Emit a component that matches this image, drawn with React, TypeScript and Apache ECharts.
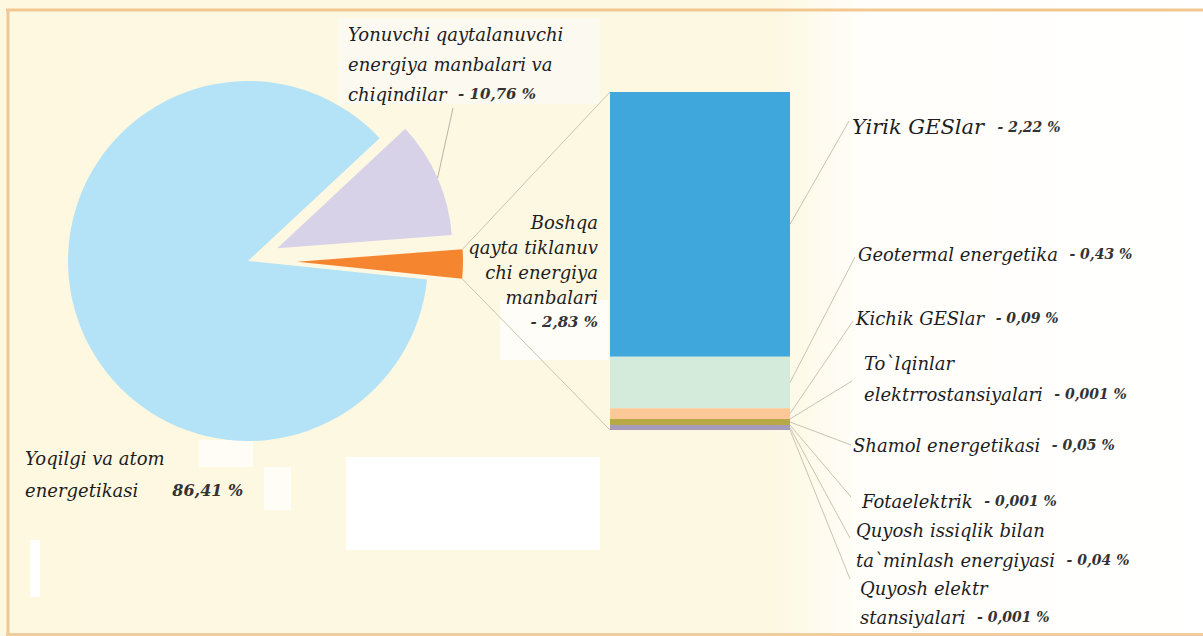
import React, { useEffect, useRef } from "react";
import * as echarts from "echarts";

// ---------- data ----------
const pieNames = [
  "Yoqilgi va atom energetikasi",
  "Yonuvchi qaytalanuvchi energiya manbalari va chiqindilar",
  "Boshqa qayta tiklanuvchi energiya manbalari",
];
const pieValues = [86.41, 10.76, 2.83];
const pieLabelLines = [
  ["Yoqilgi va atom", "energetikasi"],
  ["Yonuvchi qaytalanuvchi", "energiya manbalari va", "chiqindilar"],
  ["Boshqa", "qayta tiklanuv", "chi energiya", "manbalari"],
];

const barNames = [
  "Yirik GESlar",
  "Geotermal energetika",
  "Kichik GESlar",
  "To`lqinlar elektrrostansiyalari",
  "Shamol energetikasi",
  "Fotaelektrik",
  "Quyosh issiqlik bilan ta`minlash energiyasi",
  "Quyosh elektr stansiyalari",
];
const barValues = [2.22, 0.43, 0.09, 0.001, 0.05, 0.001, 0.04, 0.001];
const barLabelLines = [
  ["Yirik GESlar"],
  ["Geotermal energetika"],
  ["Kichik GESlar"],
  ["To`lqinlar", "elektrrostansiyalari"],
  ["Shamol energetikasi"],
  ["Fotaelektrik"],
  ["Quyosh issiqlik bilan", "ta`minlash energiyasi"],
  ["Quyosh elektr", "stansiyalari"],
];

// ---------- layout / style ----------
const W = 1203;
const H = 636;
const PIE_C = [248, 261];
const START = 354.1;
const PIE_R = [180, 175, 166];
const PIE_OFF = [0, 32, 49];
const pieColors = ["#b4e3f7", "#d8d2e9", "#f5852f"];
const barColors = ["#3fa7dc", "#d4eadb", "#fcc898", "#e3b57c", "#b8a947", "#c2b27a", "#a69cba", "#9b95b6"];
const GRID = { left: 610, top: 92, width: 180, height: 338 };
const FONT = "DejaVu Serif";
const LINE_COLOR = "#cbc3ad";

const pieLabelPos = [
  { x: 25, top: 442, lh: 32, align: "left" },
  { x: 348, top: 19, lh: 30, align: "left" },
  { x: 598, top: 209.5, lh: 25, align: "right" },
];
const barLabelPos = [
  { x: 852, top: 112, lh: 30, fs: 21, ax: 849, ay: 121 },
  { x: 858, top: 239, lh: 30, fs: 18, ax: 855, ay: 257 },
  { x: 856, top: 303, lh: 30, fs: 18, ax: 853, ay: 321 },
  { x: 864, top: 347.5, lh: 31, fs: 18, ax: 852, ay: 381 },
  { x: 853, top: 430, lh: 30, fs: 18, ax: 851, ay: 445 },
  { x: 862, top: 486, lh: 30, fs: 18, ax: 851, ay: 497 },
  { x: 856, top: 515, lh: 30, fs: 18, ax: 850, ay: 538 },
  { x: 860, top: 573.5, lh: 29, fs: 18, ax: 850, ay: 579 },
];

const fmt = (v: number) => String(v).replace(".", ",") + " %";

export default function App() {
  const ref = useRef<HTMLDivElement>(null);

  useEffect(() => {
    const chart = echarts.init(ref.current!, null, { renderer: "svg", width: W, height: H });

    const total = pieValues.reduce((a, b) => a + b, 0);
    let acc = START;
    const arcs = pieValues.map((v) => {
      const s = acc;
      const e = acc - (v / total) * 360;
      acc = e;
      return { s, e, m: (s + e) / 2 };
    });
    const rad = (d: number) => (d * Math.PI) / 180;
    const centers = arcs.map((a, i) => [
      PIE_C[0] + PIE_OFF[i] * Math.cos(rad(a.m)),
      PIE_C[1] - PIE_OFF[i] * Math.sin(rad(a.m)),
    ]);
    const onArc = (i: number, ang: number) => [
      centers[i][0] + PIE_R[i] * Math.cos(rad(ang)),
      centers[i][1] - PIE_R[i] * Math.sin(rad(ang)),
    ];

    const pieSeries = pieValues.map((_, i) => ({
      type: "pie",
      startAngle: START,
      clockwise: true,
      center: centers[i],
      radius: [0, PIE_R[i]],
      silent: true,
      z: 2,
      label: { show: false },
      labelLine: { show: false },
      emphasis: { disabled: true },
      data: pieValues.map((v, j) => ({
        name: pieNames[j],
        value: v,
        itemStyle: { color: j === i ? pieColors[j] : "rgba(0,0,0,0)" },
      })),
    }));

    const barTotal = barValues.reduce((a, b) => a + b, 0);
    const barSeries = barValues.map((v, i) => ({
      type: "bar",
      name: barNames[i],
      stack: "total",
      data: [v],
      barWidth: "100%",
      silent: true,
      z: 2,
      itemStyle: { color: barColors[i] },
    }));

    chart.setOption({
      animation: false,
      grid: { ...GRID },
      xAxis: { type: "category", data: ["Boshqa"], show: false },
      yAxis: { type: "value", min: 0, max: barTotal, inverse: true, show: false },
      series: [...pieSeries, ...barSeries],
    });

    // pixel positions from the library's scales
    const px = (v: number) => chart.convertToPixel({ xAxisIndex: 0, yAxisIndex: 0 }, [0, v]) as number[];
    const barCenterX = px(0)[0];
    const barLeft = barCenterX - GRID.width / 2;
    const barRight = barCenterX + GRID.width / 2;
    const barTopY = px(0)[1];
    const barBottomY = px(barTotal)[1];
    let cum = 0;
    const segMid = barValues.map((v) => {
      const a = px(cum)[1];
      cum += v;
      const b = px(cum)[1];
      return (a + b) / 2;
    });

    const nStyle = (fs: number) => ({
      fontFamily: FONT,
      fontStyle: "italic",
      fontSize: fs,
      fill: "#1d1d1d",
    });
    const vStyle = (fs: number) => ({
      fontFamily: FONT,
      fontStyle: "italic",
      fontWeight: "bold",
      fontSize: fs,
      fill: "#333333",
    });

    const elements: any[] = [];
    // background
    elements.push({
      type: "rect",
      z: -20,
      shape: { x: 0, y: 0, width: W, height: H },
      style: {
        fill: {
          type: "linear",
          x: 0, y: 0, x2: 1, y2: 0,
          colorStops: [
            { offset: 0, color: "#fef8e1" },
            { offset: 0.64, color: "#fdf8e2" },
            { offset: 0.72, color: "#fffefa" },
            { offset: 1, color: "#ffffff" },
          ],
        },
      },
    });
    // border
    elements.push({ type: "line", z: -19, shape: { x1: 6, y1: 10, x2: W, y2: 10 }, style: { stroke: "#f2c890", lineWidth: 3 } });
    elements.push({ type: "line", z: -19, shape: { x1: 8, y1: 9, x2: 8, y2: H }, style: { stroke: "#efc898", lineWidth: 3 } });
    elements.push({ type: "line", z: -19, shape: { x1: 6, y1: 634.5, x2: W, y2: 634.5 }, style: { stroke: "#f0cd9e", lineWidth: 3 } });
    // pale blocks seen in the scan
    const blocks = [
      { x: 346, y: 457, w: 254, h: 93, c: "#ffffff" },
      { x: 30, y: 540, w: 10, h: 57, c: "#ffffff" },
      { x: 199, y: 440, w: 54, h: 27, c: "#fffdf6" },
      { x: 264, y: 467, w: 27, h: 43, c: "#fffdf6" },
      { x: 338, y: 18, w: 262, h: 86, c: "#fbf9f0" },
      { x: 500, y: 300, w: 108, h: 60, c: "#fffdf7" },
    ];
    blocks.forEach((b) =>
      elements.push({ type: "rect", z: -15, shape: { x: b.x, y: b.y, width: b.w, height: b.h }, style: { fill: b.c } })
    );

    // connectors between the "other" slice and the bar
    const oTop = onArc(2, arcs[2].s);
    const oBot = onArc(2, arcs[2].e);
    elements.push({ type: "line", z: 3, shape: { x1: oTop[0], y1: oTop[1], x2: barLeft, y2: barTopY }, style: { stroke: LINE_COLOR, lineWidth: 1 } });
    elements.push({ type: "line", z: 3, shape: { x1: oBot[0], y1: oBot[1], x2: barLeft, y2: barBottomY }, style: { stroke: LINE_COLOR, lineWidth: 1 } });

    // lavender leader line
    const lavMid = onArc(1, arcs[1].m);
    elements.push({ type: "line", z: 3, shape: { x1: lavMid[0], y1: lavMid[1], x2: 453, y2: 108 }, style: { stroke: "#b9b3a5", lineWidth: 1 } });

    // pie labels
    pieLabelLines.forEach((lines, i) => {
      const p = pieLabelPos[i];
      let text = "";
      if (i === 0) {
        text = `{n|${lines[0]}}\n{n|${lines[1]}}{b|${fmt(pieValues[i])}}`;
      } else if (i === 1) {
        text = lines.map((l) => `{n|${l}}`).join("\n") + `  {v|- ${fmt(pieValues[i])}}`;
      } else {
        text = lines.map((l) => `{n|${l}}`).join("\n") + `\n{v|- ${fmt(pieValues[i])}}`;
      }
      elements.push({
        type: "text",
        z: 4,
        x: p.x,
        y: p.top,
        style: {
          text,
          align: p.align,
          verticalAlign: "top",
          fontFamily: FONT,
          fontStyle: "italic",
          fontSize: 18,
          fill: "#1d1d1d",
          rich: {
            n: { ...nStyle(18), lineHeight: p.lh },
            v: { ...vStyle(15), lineHeight: p.lh },
            b: { ...vStyle(16), lineHeight: p.lh, padding: [0, 0, 0, 34] },
          },
        },
      });
    });

    // bar labels + leader lines
    barLabelLines.forEach((lines, i) => {
      const p = barLabelPos[i];
      const text = lines.map((l) => `{n|${l}}`).join("\n") + `  {v|- ${fmt(barValues[i])}}`;
      elements.push({
        type: "text",
        z: 4,
        x: p.x,
        y: p.top,
        style: {
          text,
          align: "left",
          verticalAlign: "top",
          fontFamily: FONT,
          fontStyle: "italic",
          fontSize: p.fs,
          fill: "#1d1d1d",
          rich: {
            n: { ...nStyle(p.fs), lineHeight: p.lh },
            v: { ...vStyle(14), lineHeight: p.lh },
          },
        },
      });
      elements.push({
        type: "line",
        z: 3,
        shape: { x1: barRight, y1: segMid[i], x2: p.ax, y2: p.ay },
        style: { stroke: LINE_COLOR, lineWidth: 1 },
      });
    });

    chart.setOption({ graphic: { elements } });

    return () => chart.dispose();
  }, []);

  return (
    <div
      ref={ref}
      style={{ position: "absolute", left: 0, top: 0, width: W, height: H }}
    />
  );
}
